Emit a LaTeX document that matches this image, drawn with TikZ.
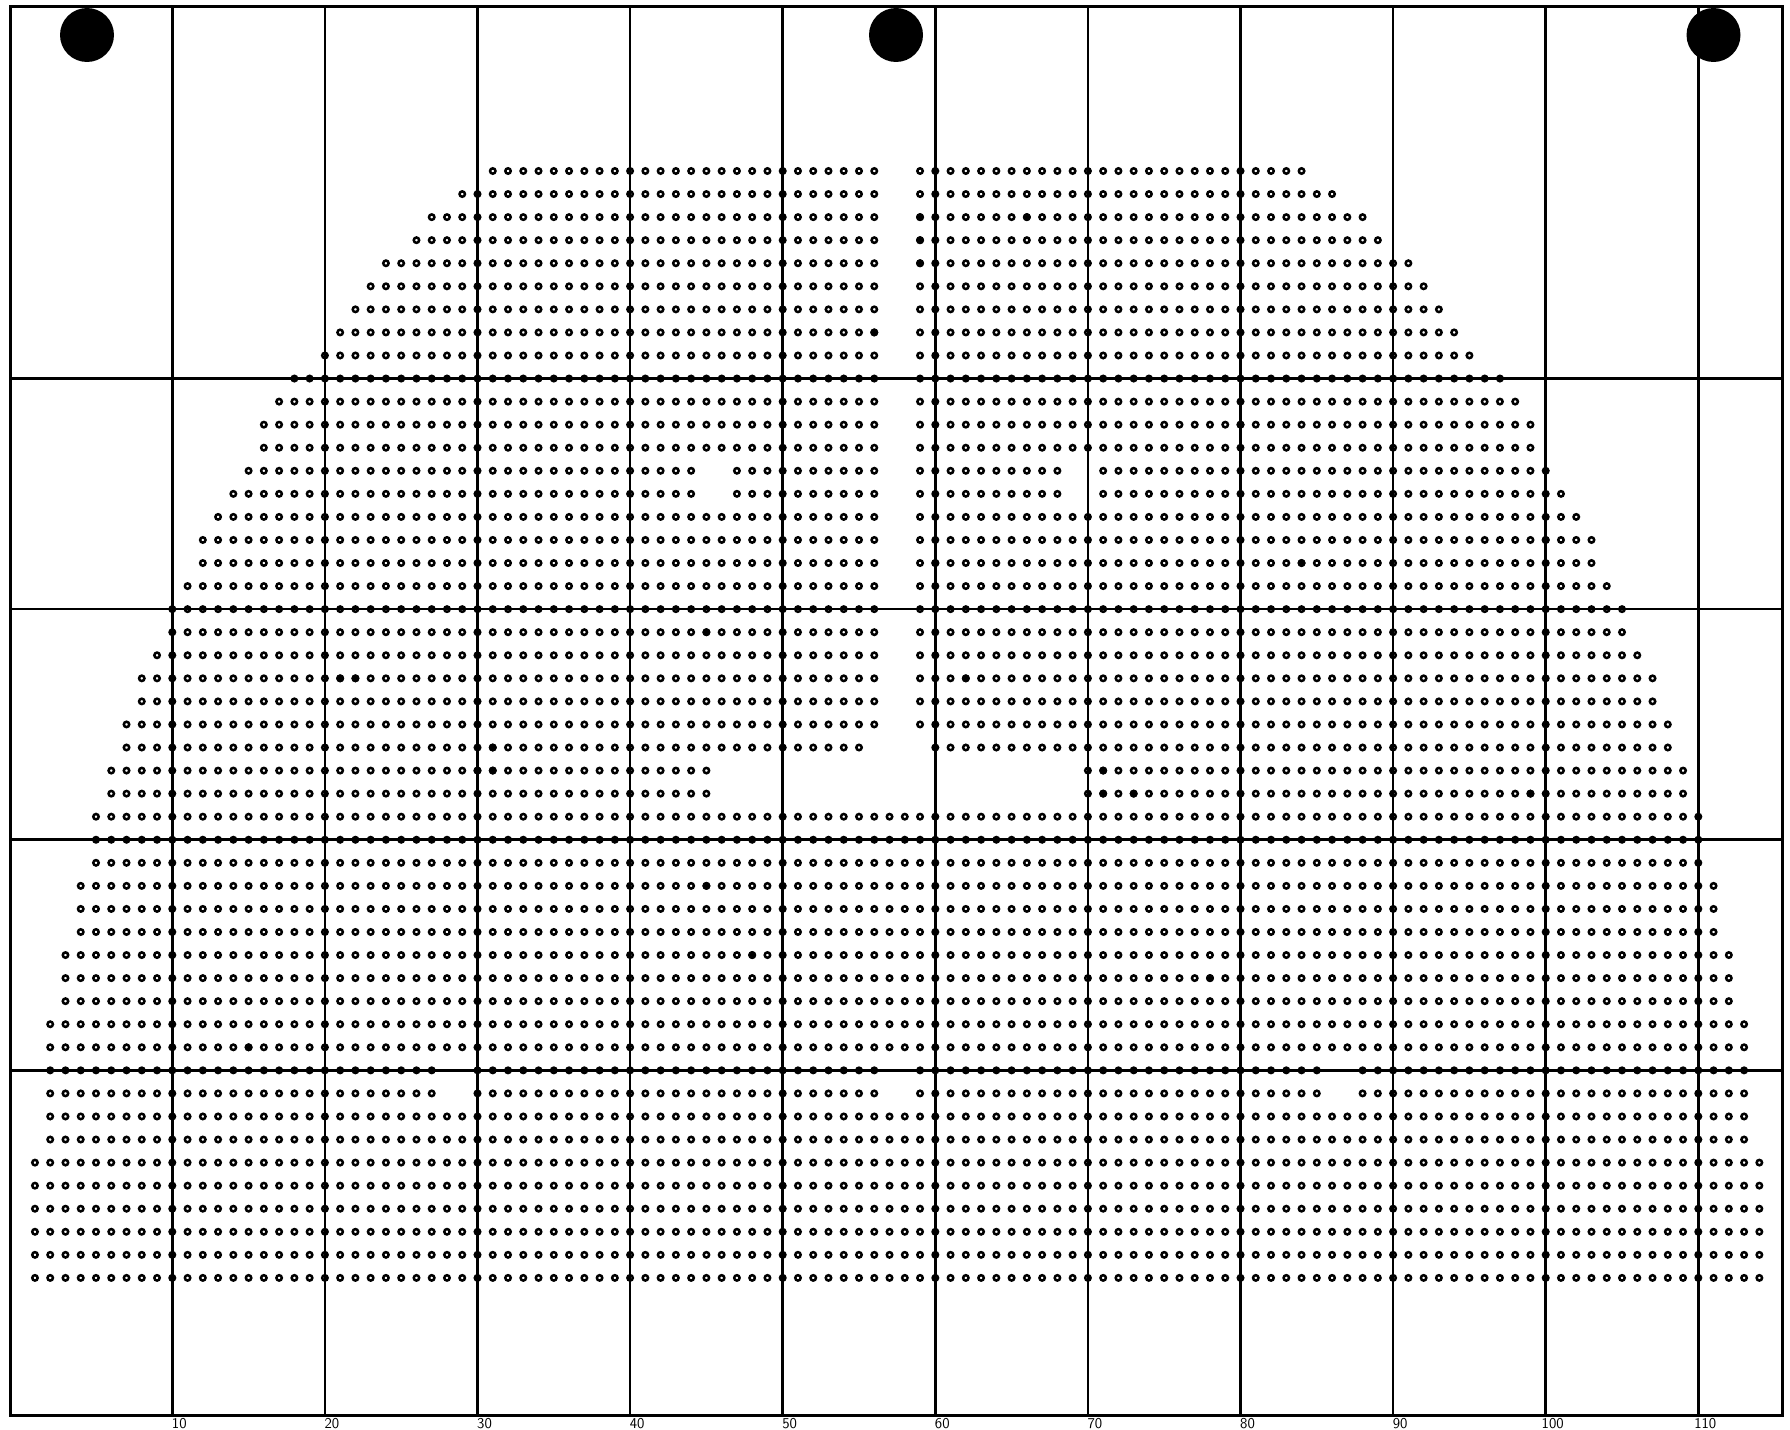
\documentclass[tikz,border=0pt]{standalone}
\begin{document}
\begin{tikzpicture}[x=1pt,y=-1pt,
  ring/.style={draw=black,line width=2.5pt,fill=none},
  fulldot/.style={fill=black},
  gridline/.style={line width=2.7pt,black},
  frameline/.style={line width=3pt,black},
  hole/.style={fill=black},
  axislabel/.style={anchor=base,inner sep=0pt,font=\sffamily\fontsize{15}{15}\selectfont}]
\useasboundingbox (0,0) rectangle (1790,1429);
% frame
\draw[frameline] (10,7) rectangle (1782,1415);
% vertical grid lines
\foreach \c in {10,20,...,110}
  \draw[gridline] ({172.3+(\c-10)*15.26},7) -- ({172.3+(\c-10)*15.26},1415);
% horizontal grid lines
\foreach \r in {9,19,29,39}
  \draw[gridline] (10,{171+\r*23.06}) -- (1782,{171+\r*23.06});
% die map
\foreach \r/\segs in {
0/{31/56,59/84},
1/{29/56,59/86},
2/{27/56,59/88},
3/{26/56,59/89},
4/{24/56,59/91},
5/{23/56,59/92},
6/{22/56,59/93},
7/{21/56,59/94},
8/{20/56,59/95},
9/{18/56,59/97},
10/{17/56,59/98},
11/{16/56,59/99},
12/{16/56,59/99},
13/{15/44,47/56,59/68,71/100},
14/{14/44,47/56,59/68,71/101},
15/{13/56,59/102},
16/{12/56,59/103},
17/{12/56,59/103},
18/{11/56,59/104},
19/{10/56,59/105},
20/{10/56,59/105},
21/{9/56,59/106},
22/{8/56,59/107},
23/{8/56,59/107},
24/{7/56,59/108},
25/{7/55,60/108},
26/{6/45,70/109},
27/{6/45,70/109},
28/{5/110},
29/{5/110},
30/{5/110},
31/{4/111},
32/{4/111},
33/{4/111},
34/{3/112},
35/{3/112},
36/{3/112},
37/{2/113},
38/{2/113},
39/{2/27,30/56,59/85,88/113},
40/{2/27,30/56,59/85,88/113},
41/{2/113},
42/{2/113},
43/{1/114},
44/{1/114},
45/{1/114},
46/{1/114},
47/{1/114},
48/{1/114}}
{
  \foreach \a/\b in \segs {
    \foreach \c in {\a,...,\b}
      \draw[ring] ({172.3+(\c-10)*15.26},{171+\r*23.06}) circle[radius=2.7];
  }
}
% filled dies
\foreach \r/\c in {2/59,2/66,3/59,4/59,7/56,11/80,16/100,17/60,17/84,20/45,22/21,22/22,22/62,25/31,26/30,26/31,26/71,27/71,27/73,27/99,31/45,34/48,35/78,38/15}
  \fill[fulldot] ({172.3+(\c-10)*15.26},{171+\r*23.06}) circle[radius=4];
% alignment holes
\fill[hole] (87,35) circle[radius=27];
\fill[hole] (896,35) circle[radius=27];
\fill[hole] (1713.5,35) circle[radius=27];
% axis labels
\foreach \n in {10,20,...,110}
  \node[axislabel] (lab\n) at ({172.3+(\n-10)*15.26+7},1428) {\n};
\end{tikzpicture}
\end{document}
